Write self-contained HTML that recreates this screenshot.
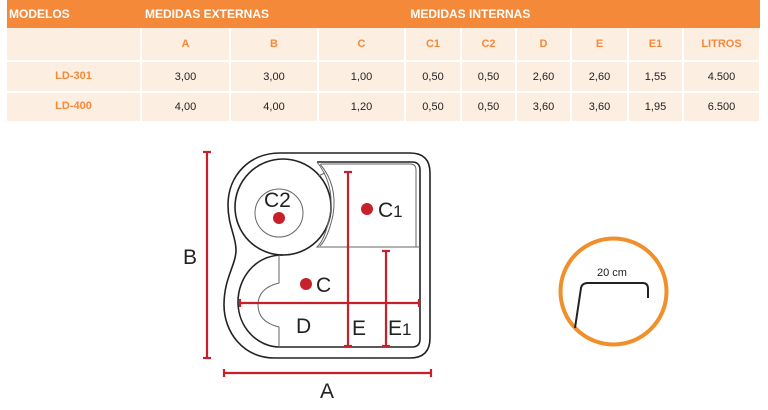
<!DOCTYPE html>
<html><head><style>
body{margin:0;width:768px;height:410px;background:#fff;overflow:hidden;font-family:"Liberation Sans",sans-serif}
table{position:absolute;left:7px;top:0;border-collapse:collapse;width:753px;font-size:11px;table-layout:fixed}
td{padding:0;text-align:center;color:#222;overflow:hidden;white-space:nowrap}
.h td{background:#f5893a;color:#fff;font-weight:bold;font-size:12px;height:28px;text-align:left}
.r td{background:#fdeee2;border-right:2px solid #fff;border-bottom:2px solid #fff}
.o{color:#f5893a;font-weight:bold}
</style></head><body>
<table>
<colgroup><col style="width:134px"><col style="width:89px"><col style="width:88px"><col style="width:87px"><col style="width:56px"><col style="width:55px"><col style="width:55px"><col style="width:57px"><col style="width:55px"><col style="width:77px"></colgroup>
<tr class="h"><td style="padding-left:2px">MODELOS</td><td colspan="3" style="padding-left:4px">MEDIDAS EXTERNAS</td><td colspan="6" style="padding-left:2px">&nbsp;MEDIDAS INTERNAS</td></tr>
<tr class="r" style="height:33px"><td></td><td class="o">A</td><td class="o">B</td><td class="o">C</td><td class="o">C1</td><td class="o">C2</td><td class="o">D</td><td class="o">E</td><td class="o">E1</td><td class="o">LITROS</td></tr>
<tr class="r" style="height:31px"><td class="o" style="vertical-align:top;padding-top:8px">LD-301</td><td>3,00</td><td>3,00</td><td>1,00</td><td>0,50</td><td>0,50</td><td>2,60</td><td>2,60</td><td>1,55</td><td>4.500</td></tr>
<tr class="r" style="height:30px"><td class="o" style="vertical-align:top;padding-top:7px">LD-400</td><td>4,00</td><td>4,00</td><td>1,20</td><td>0,50</td><td>0,50</td><td>3,60</td><td>3,60</td><td>1,95</td><td>6.500</td></tr>
</table>
<svg width="768" height="410" style="position:absolute;left:0;top:0" font-family="Liberation Sans, sans-serif">
<g fill="none" stroke="#222" stroke-width="1.6">
<path d="M280,153 L410,153 Q430,153 430,173 L430,338 Q430,358 410,358 L275,358 C243,358 224,332 224,305 C224,278 236,265 236,250 C236,236 228,226 228,205 C228,175 250,153 280,153 Z"/>
<circle cx="283" cy="207" r="48"/>
<path d="M283,255 C255,255 238,278 238,302 C238,327 257,347 280,347 L412,347 Q420,347 420,339 L420,170 Q420,162 412,162 L317,162"/>
</g>
<g fill="none" stroke="#666" stroke-width="1">
<circle cx="279" cy="213" r="24"/>
<path d="M317,162 Q335,185 330,215 Q325,240 317,247 L420,247"/>
<path d="M321,164 L410,164 Q416,164 416,170 L416,247"/>
<path d="M320,164 Q338,185 333,215 Q328,238 320,246"/>
<path d="M318,176 L325,173"/>
<path d="M279,255 L279,283 Q258,288 258,305 Q258,322 279,327 L279,347"/>
</g>
<g stroke="#c8202a" stroke-width="2.2">
<line x1="207" y1="152" x2="207" y2="358"/><line x1="203" y1="152" x2="211" y2="152"/><line x1="203" y1="358" x2="211" y2="358"/>
<line x1="224" y1="373" x2="431" y2="373"/><line x1="224" y1="369" x2="224" y2="377"/><line x1="431" y1="369" x2="431" y2="377"/>
<line x1="240" y1="303" x2="419" y2="303"/><line x1="240" y1="299" x2="240" y2="307"/><line x1="419" y1="299" x2="419" y2="307"/>
<line x1="348" y1="172" x2="348" y2="346"/><line x1="344" y1="172" x2="352" y2="172"/><line x1="344" y1="346" x2="352" y2="346"/>
<line x1="386" y1="251" x2="386" y2="346"/><line x1="382" y1="251" x2="390" y2="251"/><line x1="382" y1="346" x2="390" y2="346"/>
</g>
<g fill="#c8202a"><circle cx="279" cy="218" r="6"/><circle cx="367" cy="209" r="6"/><circle cx="306" cy="284" r="6"/></g>
<g fill="#222" font-size="21">
<text x="183" y="264">B</text><text x="320" y="398">A</text>
<text x="264" y="207">C2</text><text x="378" y="217">C<tspan font-size="17">1</tspan></text>
<text x="316" y="292">C</text><text x="296" y="333">D</text><text x="352" y="335">E</text><text x="388" y="335">E<tspan font-size="17">1</tspan></text>
</g>
<circle cx="613.5" cy="291.5" r="53" fill="none" stroke="#f0902c" stroke-width="4"/>
<path d="M575,328 L581,288 Q582,283 588,283 L643,283 Q648,283 648,289 L648,298" fill="none" stroke="#222" stroke-width="2"/>
<text x="612" y="276" font-size="11" text-anchor="middle" fill="#222">20 cm</text>
</svg>
</body></html>
